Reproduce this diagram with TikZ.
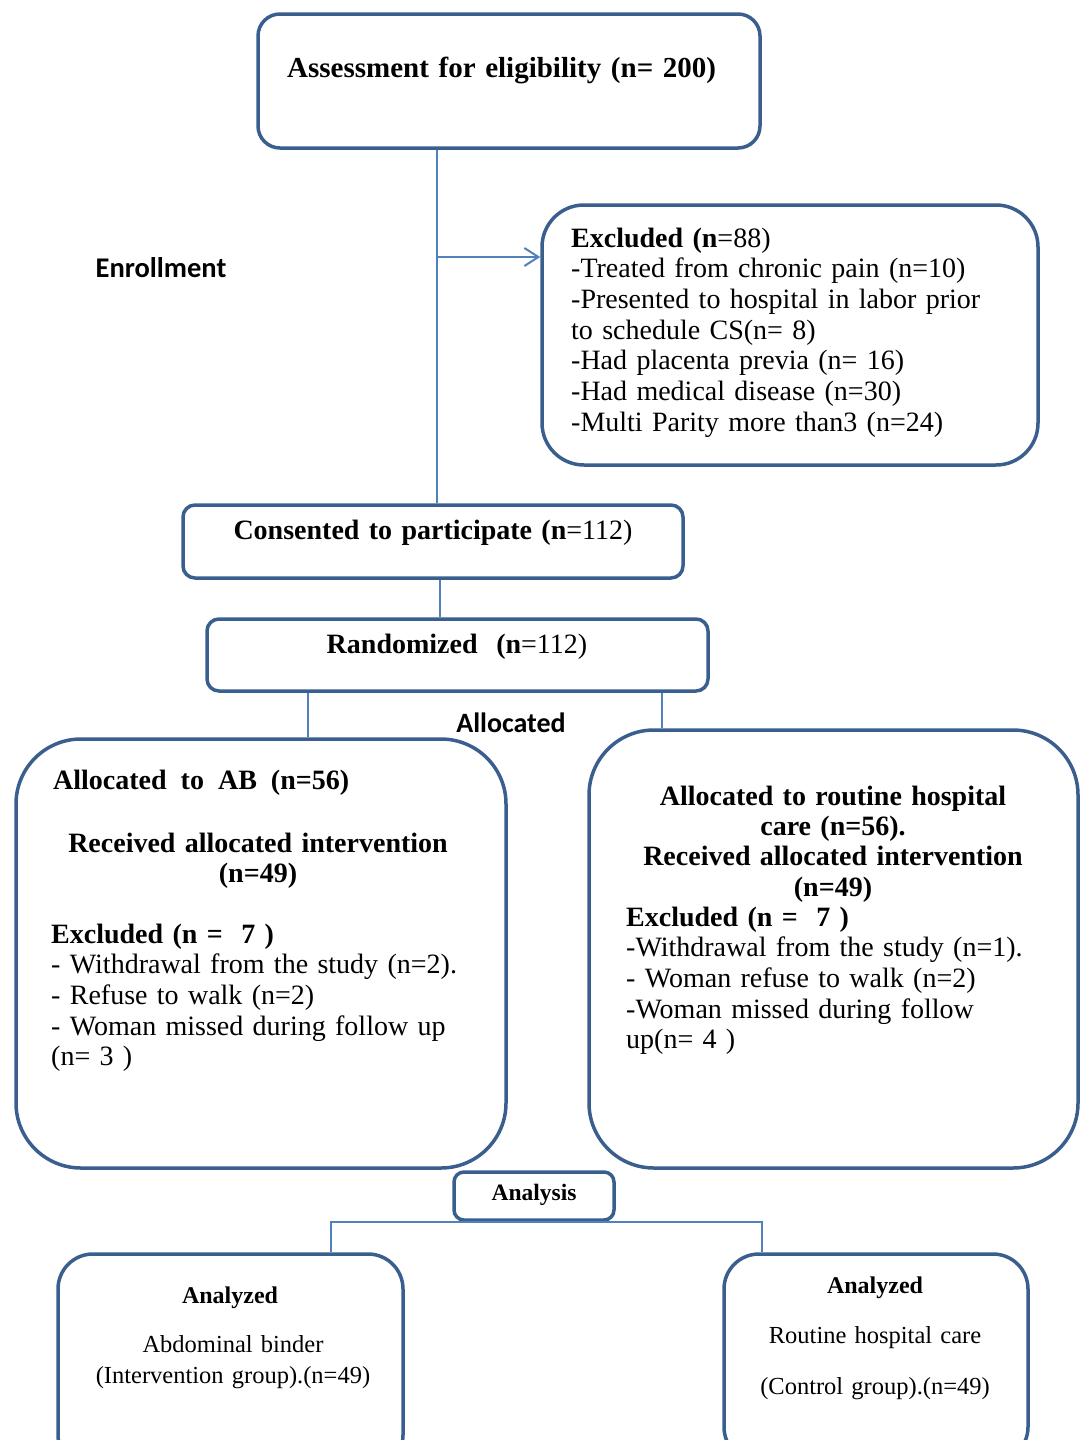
\documentclass[tikz,border=0pt]{standalone}
\usepackage{fontspec}
\setmainfont{Liberation Serif}
\newfontfamily\labelsans{Carlito}
\usetikzlibrary{arrows.meta}
\definecolor{boxc}{HTML}{3A5F8F}
\definecolor{linec}{HTML}{4F81BD}
\begin{document}
\begin{tikzpicture}[x=1pt,y=-1pt,
 box/.style={draw=boxc, line width=3.5pt, rounded corners=#1, inner sep=0},
 conn/.style={draw=linec, line width=2pt},
 lt/.style={font=\fontsize{28}{30.7}\selectfont, inner sep=0, anchor=base west, align=left, text width=#1},
 ct/.style={font=\bfseries\fontsize{28}{30.4}\selectfont, inner sep=0, anchor=base, align=center, text width=#1},
 st/.style={font=\fontsize{24.5}{31}\selectfont, inner sep=0, anchor=base, align=center, text width=#1},
 sl/.style={font=\labelsans\bfseries\fontsize{28.5}{30}\selectfont, inner sep=0, anchor=base},
]
\useasboundingbox (0,0) rectangle (1083,1440);
\clip (0,0) rectangle (1083,1440);

% boxes
\node[box=22pt, minimum width=502pt, minimum height=134pt] (A) at (509,81) {};
\node[box=42pt, minimum width=496pt, minimum height=260pt] (Excl) at (790,335) {};
\node[box=12pt, minimum width=500pt, minimum height=73pt] (Cons) at (433,541.5) {};
\node[box=12pt, minimum width=501pt, minimum height=72pt] (Rand) at (457.5,655) {};
\node[box=65pt, minimum width=490pt, minimum height=429pt] (L) at (261,953.5) {};
\node[box=65pt, minimum width=489pt, minimum height=438pt] (R) at (833.5,949) {};
\node[box=10pt, minimum width=160pt, minimum height=48pt] (An) at (534,1196) {};
\node[box=35pt, minimum width=345pt, minimum height=216pt] (LA) at (230.5,1362) {};
\node[box=35pt, minimum width=304pt, minimum height=208pt] (RA) at (876,1358) {};

% connectors
\coordinate (v1) at (437,257);
\coordinate (v2) at (440,0);
\coordinate (v3) at (308,0);
\coordinate (v4) at (662,0);
\coordinate (v5) at (331,0);
\coordinate (v6) at (762,0);
\draw[conn] (A.south -| v1) -- (Cons.north -| v1);
\draw[conn, -{Straight Barb[length=14pt, width=18pt, line width=2pt]}] (v1) -- (Excl.west |- v1);
\draw[conn] (Cons.south -| v2) -- (Rand.north -| v2);
\draw[conn] (Rand.south -| v3) -- (L.north -| v3);
\draw[conn] (Rand.south -| v4) -- (R.north -| v4);
\draw[conn] (An.south) -| (LA.north -| v5);
\draw[conn] (An.south) -| (RA.north -| v6);

% texts
\node[lt=480pt, font=\bfseries\fontsize{29}{31}\selectfont] (tA) at (287,77) {Assessment for eligibility (n= 200)};
\node[lt=460pt] (tExcl) at (571,247) {\textbf{Excluded (n}=88)\\
-Treated from chronic pain (n=10)\\
-Presented to hospital in labor prior\\
to schedule CS(n= 8)\\
-Had placenta previa (n= 16)\\
-Had medical disease (n=30)\\
-Multi Parity more than3 (n=24)};
\node[sl] (tEnr) at (161,277) {Enrollment};
\node[ct=490pt] (tCons) at (433,539) {Consented to participate (n\mdseries=112)};
\node[ct=490pt] (tRand) at (457,653) {Randomized\ \ (n\mdseries=112)};
\node[sl, font=\labelsans\bfseries\fontsize{28}{30}\selectfont] (tAll) at (511,732) {Allocated};

\node[lt=440pt, font=\bfseries\fontsize{28}{30.7}\selectfont] (tL1) at (53,789) {Allocated\, to\, AB\, (n=56)};
\node[ct=440pt] (tL2) at (258,852) {Received allocated intervention\\(n=49)};
\node[lt=450pt] (tL3) at (51,943) {\textbf{Excluded (n =\ \ 7 )}\\
- Withdrawal from the study (n=2).\\
- Refuse to walk (n=2)\\
- Woman missed during follow up\\
(n= 3 )};

\node[ct=450pt] (tR1) at (833,805) {Allocated to routine hospital\\care (n=56).\\Received allocated intervention\\(n=49)};
\node[lt=440pt] (tR2) at (626,926) {\textbf{Excluded (n =\ \ 7 )}\\
-Withdrawal from the study (n=1).\\
- Woman refuse to walk (n=2)\\
-Woman missed during follow\\
up(n= 4 )};

\node[st=150pt, font=\bfseries\fontsize{23.5}{31}\selectfont] (tAn) at (534,1200) {Analysis};
\node[st=330pt, font=\bfseries\fontsize{24}{31}\selectfont] (tLA1) at (230,1303) {Analyzed};
\node[st=330pt] (tLA2) at (233,1352) {Abdominal binder\\(Intervention group).(n=49)};
\node[st=300pt, font=\bfseries\fontsize{24}{31}\selectfont] (tRA1) at (875,1293) {Analyzed};
\node[st=300pt] (tRA2) at (875,1343) {Routine hospital care};
\node[st=300pt] (tRA3) at (875,1394) {(Control group).(n=49)};
\end{tikzpicture}
\end{document}
